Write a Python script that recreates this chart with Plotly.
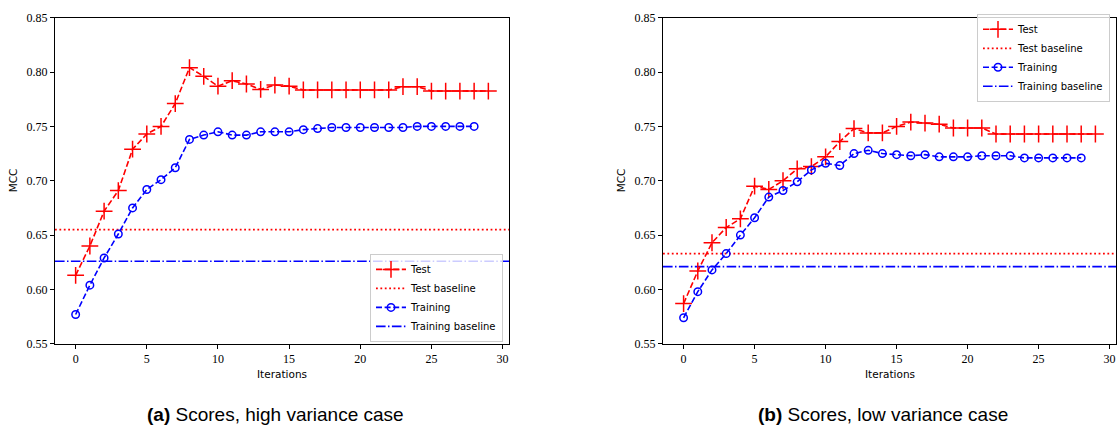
import plotly.graph_objects as go

# Iteration indices
iters_test = list(range(30))
iters_train = list(range(29))

# (a) high variance case
test_a = [0.613, 0.640, 0.672, 0.691, 0.729, 0.743, 0.750, 0.771, 0.804, 0.796,
          0.787, 0.792, 0.789, 0.784, 0.788, 0.787, 0.7835, 0.7835, 0.7835, 0.7835,
          0.7835, 0.7835, 0.7835, 0.7865, 0.7865, 0.7825, 0.7825, 0.7825, 0.7825, 0.7825]
train_a = [0.577, 0.604, 0.629, 0.651, 0.675, 0.692, 0.701, 0.712, 0.738, 0.742,
           0.745, 0.742, 0.742, 0.745, 0.745, 0.745, 0.747, 0.748, 0.749, 0.749,
           0.749, 0.749, 0.749, 0.749, 0.750, 0.750, 0.750, 0.750, 0.750]
test_base_a = 0.655
train_base_a = 0.626

# (b) low variance case
test_b = [0.587, 0.617, 0.643, 0.657, 0.665, 0.695, 0.692, 0.700, 0.711, 0.713,
          0.722, 0.736, 0.748, 0.744, 0.744, 0.750, 0.754, 0.753, 0.752, 0.7485,
          0.7485, 0.7485, 0.743, 0.743, 0.743, 0.743, 0.743, 0.743, 0.743, 0.743]
train_b = [0.574, 0.598, 0.618, 0.633, 0.650, 0.666, 0.685, 0.691, 0.699, 0.710,
           0.716, 0.714, 0.725, 0.728, 0.725, 0.724, 0.723, 0.724, 0.722, 0.722,
           0.722, 0.723, 0.723, 0.723, 0.721, 0.721, 0.721, 0.721, 0.721]
test_base_b = 0.633
train_base_b = 0.621

captions = ["<b>(a)</b> Scores, high variance case", "<b>(b)</b> Scores, low variance case"]
x_ticks = [0, 5, 10, 15, 20, 25, 30]
y_ticks = [0.55, 0.60, 0.65, 0.70, 0.75, 0.80, 0.85]

W, H = 1118, 437
RED = "#ff0000"
BLUE = "#0000ff"
TEST_DASH = "6px,2.6px"
DOT = "1.8px,2.6px"
DASHDOT = "9.6px,2.4px,1.5px,2.4px"

fig = go.Figure()

panels = [
    dict(xa="x", ya="y", legend="legend", test=test_a, train=train_a,
         tb=test_base_a, trb=train_base_a),
    dict(xa="x2", ya="y2", legend="legend2", test=test_b, train=train_b,
         tb=test_base_b, trb=train_base_b),
]

for p in panels:
    fig.add_trace(go.Scatter(
        x=iters_test, y=p["test"], name="Test", mode="lines+markers",
        xaxis=p["xa"], yaxis=p["ya"], legend=p["legend"],
        line=dict(color=RED, width=1.6, dash=TEST_DASH),
        marker=dict(symbol="cross-thin", size=12, color=RED,
                    line=dict(color=RED, width=1.5)),
    ))
    fig.add_trace(go.Scatter(
        x=[None], y=[None], name="Test baseline", mode="lines",
        xaxis=p["xa"], yaxis=p["ya"], legend=p["legend"],
        line=dict(color=RED, width=1.8, dash=DOT),
    ))
    fig.add_trace(go.Scatter(
        x=iters_train, y=p["train"], name="Training", mode="lines+markers",
        xaxis=p["xa"], yaxis=p["ya"], legend=p["legend"],
        line=dict(color=BLUE, width=1.6, dash=TEST_DASH),
        marker=dict(symbol="circle-open", size=7.5, color=BLUE,
                    line=dict(color=BLUE, width=1.5)),
    ))
    fig.add_trace(go.Scatter(
        x=[None], y=[None], name="Training baseline", mode="lines",
        xaxis=p["xa"], yaxis=p["ya"], legend=p["legend"],
        line=dict(color=BLUE, width=1.6, dash=DASHDOT),
    ))
    # horizontal baselines across the full axis width
    xd = p["xa"] + " domain"
    fig.add_shape(type="line", xref=xd, yref=p["ya"], x0=0, x1=1,
                  y0=p["tb"], y1=p["tb"],
                  line=dict(color=RED, width=1.8, dash=DOT), layer="below")
    fig.add_shape(type="line", xref=xd, yref=p["ya"], x0=0, x1=1,
                  y0=p["trb"], y1=p["trb"],
                  line=dict(color=BLUE, width=1.6, dash=DASHDOT), layer="below")

# plot area geometry (pixels)
top_px, bot_px = 11, 348
ydom = [1 - bot_px / H, 1 - top_px / H]
xdom1 = [55 / W, 509 / W]
xdom2 = [663 / W, 1116 / W]

tick_font = dict(family="Liberation Serif", size=12, color="#000000")
axis_common = dict(
    showgrid=False, zeroline=False, showline=True, linecolor="#000000",
    linewidth=1, mirror=True, ticks="outside", ticklen=4, tickwidth=1,
    tickcolor="#000000", tickfont=tick_font,
)

legend_style = dict(
    bgcolor="rgba(255,255,255,0.8)", bordercolor="#cccccc", borderwidth=1,
    font=dict(family="DejaVu Sans", size=10, color="#000000"),
    traceorder="normal", itemwidth=30,
)

fig.update_layout(
    width=W, height=H, autosize=False,
    margin=dict(l=0, r=0, t=0, b=0),
    paper_bgcolor="white", plot_bgcolor="white",
    xaxis=dict(domain=xdom1, range=[-1.45, 30.45], tickvals=x_ticks,
               anchor="y", **axis_common),
    yaxis=dict(domain=ydom, range=[0.55, 0.85], tickvals=y_ticks,
               tickformat=".2f", anchor="x", **axis_common),
    xaxis2=dict(domain=xdom2, range=[-1.45, 30.45], tickvals=x_ticks,
                anchor="y2", **axis_common),
    yaxis2=dict(domain=ydom, range=[0.55, 0.85], tickvals=y_ticks,
                tickformat=".2f", anchor="x2", **axis_common),
    legend=dict(x=503 / W, y=1 - 346 / H, xanchor="right", yanchor="bottom",
                **legend_style),
    legend2=dict(x=1110 / W, y=1 - 7 / H, xanchor="right", yanchor="top",
                 **legend_style),
    showlegend=True,
)

label_font = dict(family="DejaVu Sans", size=10.5, color="#000000")
ymid = 1 - ((top_px + bot_px) / 2) / H
for xl, xd in [(12.6, xdom1), (620.6, xdom2)]:
    fig.add_annotation(text="MCC", x=xl / W, y=ymid, xref="paper", yref="paper",
                       textangle=-90, showarrow=False, font=label_font,
                       xanchor="center", yanchor="middle")
    fig.add_annotation(text="Iterations", x=(xd[0] + xd[1]) / 2, y=1 - 379 / H,
                       xref="paper", yref="paper", showarrow=False,
                       font=label_font, xanchor="center", yanchor="middle")

for cap, cx in zip(captions, [275, 883]):
    fig.add_annotation(text=cap, x=cx / W, y=1 - 421 / H, xref="paper", yref="paper",
                       showarrow=False, xanchor="center", yanchor="middle",
                       font=dict(family="Liberation Sans", size=19, color="#000000"))

fig.write_html("out.html")
